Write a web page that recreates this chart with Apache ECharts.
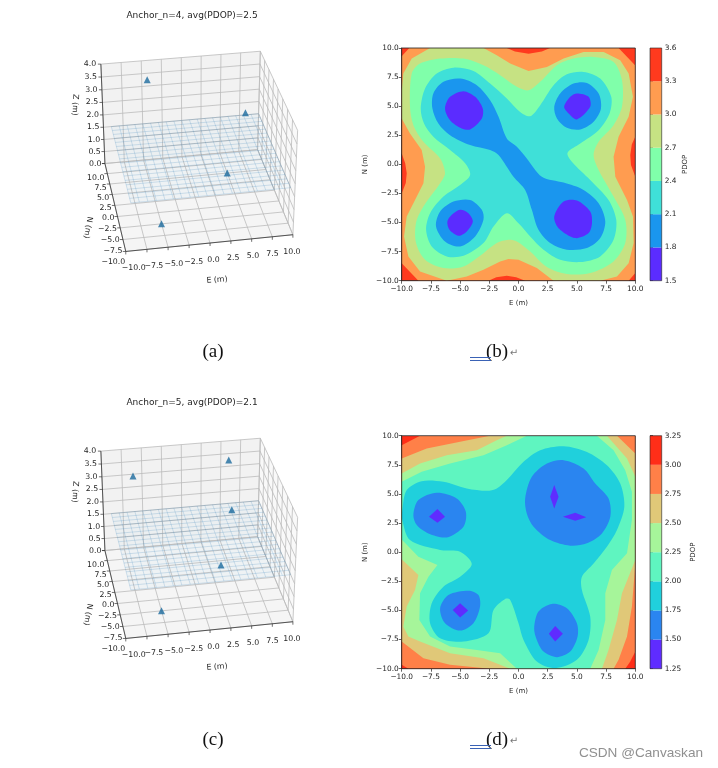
<!DOCTYPE html>
<html><head><meta charset="utf-8">
<style>html,body{margin:0;padding:0;background:#fff}#c{width:718px;height:768px}</style>
<script src="https://cdn.jsdelivr.net/npm/echarts@6/dist/echarts.min.js"></script>
</head><body><div id="c"></div>
<script>
// ---------- data ----------
const titleA = 'Anchor_n=4, avg(PDOP)=2.5';
const titleC = 'Anchor_n=5, avg(PDOP)=2.1';
const anchorsA = [[-5,-5,0],[5,5,0],[-5,5,4],[5,-5,4]];
const anchorsC = [[-7,3,4],[4,4,0],[5,5,4],[-5,-5,0],[3,-7,4]];
const horizTicks = [-10,-7.5,-5,-2.5,0,2.5,5,7.5,10];
const zTicks = [0,0.5,1,1.5,2,2.5,3,3.5,4];
const wireE = [-9,-8,-7,-6,-5,-4,-3,-2,-1,0,1,2,3,4,5,6,7,8,9,10];
const wireN = [-8,-7,-6,-5,-4,-3,-2,-1,0,1,2,3,4,5,6,7,8,9,10];
const wireHeight = 1.5;

const levelsB = [1.5,1.8,2.1,2.4,2.7,3.0,3.3,3.6];
const colorsB = ['#5b2cff','#1a96ee','#3fe0d8','#80ffaa','#c6e283','#ff9c50','#ff3a1e'];
const levelsD = [1.25,1.5,1.75,2.0,2.25,2.5,2.75,3.0,3.25];
const colorsD = ['#5f2cff','#2a85f0','#20d0dc','#5ff5c0','#a6f59a','#e0c878','#ff8048','#ff2e18'];

const b33 = [[-9.35,10],[-1,10],[-0.3,9.7],[0.86,9.5],[2,9.7],[2.7,10],[8.57,10],[10,8.5],[10,2.4],[9.7,1.7],[9.57,0.8],[9.63,-0.06],[10,-1.06],[10,-9.34],[9.43,-10],[0.57,-10],[-0.2,-9.7],[-1,-9.57],[-1.9,-9.7],[-2.57,-10],[-8.57,-10],[-10,-8.5],[-10,-2.5],[-9.65,-1.6],[-9.57,-0.77],[-9.7,0.1],[-10,0.94],[-10,9.3]];
const b30 = [[-10,3.94],[-10,6.37],[-9.86,7.8],[-9.14,9.09],[-7.57,10],[-3,10],[-1.86,9.37],[-0.71,8.66],[0.86,8.03],[2.43,8.37],[3.86,9.09],[5.57,9.66],[7.29,9.66],[8.71,8.94],[9.43,7.8],[9.8,5.8],[9.43,4.09],[8.57,2.37],[8.14,0.66],[8.29,-1.06],[9.29,-3.06],[9.8,-4.49],[9.86,-6.77],[9.43,-8.49],[8.43,-9.63],[7,-10],[3,-10],[1.57,-8.91],[0,-8.2],[-0.86,-8.14],[-1.57,-8.34],[-3,-9.06],[-4.43,-9.63],[-6.14,-10],[-8.43,-9.2],[-9.43,-7.91],[-9.8,-6.2],[-9.57,-4.49],[-8.86,-3.06],[-8.14,-1.63],[-8,-0.2],[-8.29,1.23],[-9.29,2.66]];
const b27 = [[-9.29,4.94],[-9.14,7.8],[-8.43,8.66],[-6.71,9.09],[-4.71,9.09],[-3,8.51],[-1.57,7.66],[-0.14,6.66],[0.86,6.37],[2,7.23],[3.29,8.51],[4.71,9.09],[6.43,9.23],[8.14,8.8],[8.86,7.23],[8.86,4.94],[8.14,3.37],[6.86,1.94],[6.43,0.8],[6.86,-0.49],[8.14,-2.77],[9.14,-4.77],[9.14,-6.77],[8.14,-8.34],[6.14,-9.34],[4.14,-9.43],[2.43,-8.83],[1,-7.49],[-0.14,-6.63],[-0.86,-6.49],[-1.86,-6.77],[-3,-7.63],[-4.71,-8.77],[-6.43,-8.91],[-8,-8.2],[-8.77,-6.77],[-8.77,-5],[-8.14,-3.63],[-6.71,-1.63],[-6.29,-0.77],[-6.71,0.51],[-8.14,1.94],[-9,3.37]];
const b24 = [[-8.37,4.8],[-8,6.51],[-7,7.8],[-5.57,8.31],[-3.86,8.03],[-2.43,6.94],[-1,5.66],[0.14,4.51],[1,4.14],[1.86,5.09],[3,6.8],[4.14,7.74],[5.57,7.94],[7,7.37],[7.94,5.8],[7.8,4.37],[6.86,2.94],[5.29,1.8],[4.2,1],[4.57,0.23],[6.14,-1.34],[7.71,-3.06],[8.37,-4.77],[8.14,-6.49],[7,-7.91],[5.29,-8.4],[3.57,-8.2],[2.14,-7.34],[1,-6.2],[0,-5.06],[-1,-4.2],[-2.14,-5.34],[-3,-6.77],[-4.71,-7.86],[-6.14,-7.91],[-7.43,-7.06],[-7.91,-5.63],[-7.57,-4.2],[-6.43,-2.77],[-5,-1.77],[-4.14,-0.91],[-4.57,0.09],[-5.86,1.23],[-7.29,2.37],[-8.09,3.51]];
const b21Main = [[-7.37,4.8],[-7.29,6.09],[-6.43,7.09],[-5,7.37],[-3.57,6.8],[-2.43,5.51],[-1.71,4.09],[-1,2.23],[-0.14,1.51],[0.71,0.51],[2,-1.06],[3.86,-1.57],[5.57,-2.2],[6.86,-3.34],[7.43,-4.91],[7,-6.34],[5.86,-7.2],[4.14,-7.34],[2.71,-6.77],[1.71,-5.63],[1.14,-3.91],[0.57,-2.2],[-0.43,-1.06],[-1.71,0.8],[-2.43,1.23],[-4.14,1.66],[-5.86,2.51],[-6.86,3.51]];
const b21TR = [[3.06,4.94],[3.57,6.09],[4.71,6.94],[5.86,7],[6.86,6.09],[7.06,4.8],[6.43,3.66],[5.29,3],[4.14,3.14],[3.29,3.94]];
const b21BL = [[-7.06,-5.34],[-6.71,-4.06],[-5.57,-3.2],[-4.14,-3.06],[-3.14,-3.91],[-3,-4.77],[-3.71,-6.2],[-5,-7.06],[-6.29,-6.63]];
const b18TL = [[-6.29,4.8],[-5.86,5.8],[-4.71,6.29],[-3.71,5.8],[-3.06,4.8],[-3.14,3.94],[-4.14,3],[-4.86,3.09],[-5.86,3.8]];
const b18TR = [[3.91,4.94],[4.43,5.8],[5,6.09],[6,5.8],[6.14,4.94],[5,3.86],[4.29,4.37]];
const b18BR = [[3.06,-4.49],[3.86,-3.2],[5,-3.11],[6.14,-4.06],[6.29,-5.06],[6,-5.91],[4.86,-6.34],[3.43,-5.49]];
const b18BL = [[-6.09,-4.91],[-5.71,-4.34],[-5,-3.91],[-4.29,-4.2],[-3.91,-4.91],[-4.43,-5.77],[-5.14,-6.14],[-5.91,-5.63]];

const d300 = [[-8.43,10],[10,10],[10,-8.53],[9.57,-9.39],[9.14,-10],[-9.43,-10],[-10,-9.67],[-10,9.19]];
const d275 = [[-10,8.04],[-7.86,8.9],[-5,9.47],[-2.43,10],[8.43,10],[10,8.47],[10,-0.96],[9.71,-4.67],[9.29,-7.24],[8.57,-9.24],[8.14,-10],[-2.43,-10],[-5.86,-9.67],[-8.14,-9.1],[-10,-7.67]];
const d250 = [[-10,6.76],[-8.43,7.61],[-6.14,8.33],[-3.57,8.76],[-1.86,9.61],[-1,10],[7.57,10],[9.29,8.04],[10,6.47],[10,-0.67],[8.86,-3.53],[8.43,-5.81],[7.71,-8.39],[7.14,-10],[-0.71,-10],[-3,-9.1],[-5.86,-8.67],[-8.43,-7.67],[-9.43,-7.24],[-9.86,-6.39],[-9.57,-4.67],[-8.86,-3.24],[-8.57,-1.96],[-10,-0.61]];
const d225 = [[-10,6.04],[-8.29,6.9],[-5.86,7.61],[-3,8.33],[-1,9.19],[0.71,10],[6.71,10],[8.14,8.76],[9.14,7.04],[9.71,5.19],[9.71,2.76],[9.29,-0.1],[8,-1.53],[7.43,-3.53],[7.43,-5.81],[6.86,-8.39],[6.14,-10],[-0.14,-10],[-1.57,-8.67],[-3.57,-8.39],[-5.86,-8.1],[-7.57,-7.24],[-8.49,-5.81],[-8.43,-3.53],[-7.71,-2.1],[-6.94,-1.1],[-8.57,-0.39],[-10,1.1]];
const d200 = [[-9.95,3.6],[-9.57,5.33],[-8.29,6.1],[-6.43,6.04],[-4.43,5.47],[-2.71,5.27],[-1.86,5.47],[-1,6.19],[0.43,7.76],[1.86,8.76],[3.86,9.1],[5.86,8.61],[7.57,7.47],[8.71,5.9],[9.06,3.9],[8.43,1.9],[7.57,0.47],[6.43,-0.96],[5.43,-2.1],[5.43,-3.24],[6.14,-5.53],[6,-7.53],[5,-9.24],[3.14,-9.96],[1.57,-9.39],[0.43,-7.53],[0,-6.1],[-0.71,-4.1],[-1.14,-4.01],[-2.14,-4.96],[-2.57,-6.96],[-4.71,-7.67],[-6.71,-7.39],[-7.57,-6.1],[-7.43,-4.39],[-6.43,-2.96],[-5,-2.1],[-4,-1.01],[-5,0.04],[-6.71,0.19],[-9.29,1.04],[-9.95,2.76]];
const d175L = [[-9,3.19],[-8.57,4.47],[-7,5.1],[-5.29,4.61],[-4.51,3.47],[-4.71,2.19],[-6.14,1.27],[-7.71,1.61],[-8.71,2.33]];
const d175TR = [[0.57,4.61],[1.14,6.47],[2.43,7.61],[3.86,7.9],[5.57,7.19],[6.57,5.9],[7.71,4.61],[7.86,3.04],[7.14,1.61],[5.86,0.76],[4.43,0.56],[2.71,1.04],[1.29,2.19],[0.71,3.33]];
const d175BL = [[-6.71,-4.81],[-6,-3.67],[-4.29,-3.3],[-3.43,-3.67],[-3.29,-4.67],[-3.86,-6.1],[-5,-6.73],[-6.29,-6.1]];
const d175B = [[1.34,-6.53],[1.71,-5.1],[2.86,-4.44],[4.14,-4.81],[5,-6.1],[5.06,-7.24],[4.43,-8.53],[3.29,-9.01],[2.14,-8.53],[1.57,-7.53]];
const d150a = [[-7.66,3.04],[-6.94,3.7],[-6.29,3.04],[-6.94,2.53]];
const d150b = [[3.06,5.76],[3.43,4.76],[3.06,3.76],[2.71,4.76]];
const d150c = [[3.8,3.04],[4.86,3.39],[5.8,2.99],[4.86,2.7]];
const d150d = [[-5.63,-4.96],[-5,-4.39],[-4.31,-5.01],[-5,-5.61]];
const d150e = [[2.6,-7.01],[3.14,-6.33],[3.8,-7.01],[3.14,-7.67]];

const frame = [[-10,10],[10,10],[10,-10],[-10,-10]];

// bands painted from the outermost level inwards: [colour index, ring]
const bandsB = [[6,frame],[5,b33],[4,b30],[3,b27],[2,b24],[1,b21Main],[1,b21TR],[1,b21BL],[0,b18TL],[0,b18TR],[0,b18BR],[0,b18BL]];
const bandsD = [[7,frame],[6,d300],[5,d275],[4,d250],[3,d225],[2,d200],[1,d175L],[1,d175TR],[1,d175BL],[1,d175B],[0,d150a],[0,d150b],[0,d150c],[0,d150d],[0,d150e]];

// ---------- 3-D projection (matplotlib style camera) ----------
const ELEV = 32 * Math.PI/180, AZIM = -100 * Math.PI/180, DIST = 10;
const HX = 0.5714, HZ = 0.4286;
const sE=Math.sin(ELEV), cE=Math.cos(ELEV), sA=Math.sin(AZIM), cA=Math.cos(AZIM);
function proj(e,n,z){
  const x=e/10*HX, y=n/10*HX, w=(z-2)/2*HZ;
  const X=-sA*x+cA*y;
  const Y=-sE*cA*x-sE*sA*y+cE*w;
  const Z=cE*cA*x+cE*sA*y+sE*w;
  const d=DIST-Z;
  return [X/d,Y/d];
}
const FONT3D='DejaVu Sans';
const S3X=1450,S3Y=1400;
const panels3d=[{cx:195.3,cy:148,title:titleA,titleY:16,anchors:anchorsA},{cx:195.3,cy:535,title:titleC,titleY:403,anchors:anchorsC}];

const grid=[],xAxis=[],yAxis=[],series=[],graphicEls=[];
const minus=s=>String(s).replace('-','\u2212');

function seg(a,b){const p=proj(...a),q=proj(...b);return [p[0],p[1],q[0],q[1]];}
function segSeries(gi,data,color,width,z){
  series.push({type:'custom',xAxisIndex:gi,yAxisIndex:gi,z,silent:true,clip:false,coordinateSystem:'cartesian2d',
    data,encode:{x:[0,2],y:[1,3]},
    renderItem(p,api){
      const a=api.coord([api.value(0),api.value(1)]),b=api.coord([api.value(2),api.value(3)]);
      return {type:'line',shape:{x1:a[0],y1:a[1],x2:b[0],y2:b[1]},style:{stroke:color,lineWidth:width,fill:null}};
    }});
}
function textSeries(gi,items,z){
  series.push({type:'custom',xAxisIndex:gi,yAxisIndex:gi,z,silent:true,clip:false,coordinateSystem:'cartesian2d',
    data:items.map(t=>[t.p[0],t.p[1]]),
    renderItem(p,api){
      const t=items[p.dataIndex],a=api.coord([api.value(0),api.value(1)]);
      return {type:'text',x:a[0]+t.dx,y:a[1]+t.dy,rotation:t.rot||0,style:{text:t.s,fontFamily:FONT3D,fontSize:t.fs||7.8,fill:'#262626',align:t.al||'center',verticalAlign:'middle'}};
    }});
}

panels3d.forEach(P=>{
  const gi=grid.length,L=60,T=P.cy-108,W=250,H=225;
  grid.push({left:L,top:T,width:W,height:H,show:false});
  xAxis.push({type:'value',gridIndex:gi,show:false,min:(L-P.cx)/S3X,max:(L+W-P.cx)/S3X});
  yAxis.push({type:'value',gridIndex:gi,show:false,max:(P.cy-T)/S3Y,min:(P.cy-T-H)/S3Y});
  const e0=wireE[0],e1=wireE[wireE.length-1],n0=wireN[0],n1=wireN[wireN.length-1];
  // panes and the faint tint of the wire plane
  const panes=[
    {c:[[-10,-10,0],[10,-10,0],[10,10,0],[-10,10,0]],f:'#f5f5f5'},
    {c:[[-10,10,0],[10,10,0],[10,10,4],[-10,10,4]],f:'#f2f2f2'},
    {c:[[10,-10,0],[10,10,0],[10,10,4],[10,-10,4]],f:'#f9f9f9'},
    {c:[[e0,n0,wireHeight],[e1,n0,wireHeight],[e1,n1,wireHeight],[e0,n1,wireHeight]],f:'rgba(120,190,240,0.05)'}];
  series.push({type:'custom',xAxisIndex:gi,yAxisIndex:gi,z:1,silent:true,clip:false,coordinateSystem:'cartesian2d',
    data:panes.map(q=>proj(...q.c[0])),
    renderItem(p,api){
      const q=panes[p.dataIndex];
      return {type:'polygon',shape:{points:q.c.map(v=>api.coord(proj(...v)))},style:{fill:q.f,stroke:null}};
    }});
  // grid lines
  const gl=[];
  horizTicks.forEach(t=>{
    gl.push(seg([t,-10,0],[t,10,0]),seg([-10,t,0],[10,t,0]),seg([t,10,0],[t,10,4]),seg([10,t,0],[10,t,4]));
  });
  zTicks.forEach(t=>{gl.push(seg([-10,10,t],[10,10,t]),seg([10,10,t],[10,-10,t]));});
  segSeries(gi,gl,'#bbbbbb',0.8,2);
  // wire plane
  const wl=[];
  wireE.forEach(t=>wl.push(seg([t,n0,wireHeight],[t,n1,wireHeight])));
  wireN.forEach(t=>wl.push(seg([e0,t,wireHeight],[e1,t,wireHeight])));
  segSeries(gi,wl,'rgba(31,119,180,0.26)',0.7,3);
  // axes and tick marks
  const ax=[seg([-10,-10,0],[10,-10,0]),seg([-10,-10,0],[-10,10,0]),seg([-10,10,0],[-10,10,4])];
  segSeries(gi,ax,'#333333',0.8,4);
  const tk=[];
  horizTicks.forEach(t=>{
    const p=proj(t,-10,0);tk.push([p[0],p[1],p[0],p[1]-3/S3Y]);
    const q=proj(-10,t,0);tk.push([q[0],q[1],q[0]-3/S3X,q[1]]);
  });
  zTicks.forEach(t=>{const p=proj(-10,10,t);tk.push([p[0],p[1],p[0]-3/S3X,p[1]]);});
  segSeries(gi,tk,'#333333',0.7,4);
  // tick labels
  const tx=[];
  horizTicks.forEach(t=>{
    const s=minus(t.toFixed(1));
    tx.push({p:proj(t,-10,0),s,dx:3.5-0.45*t,dy:17});
    tx.push({p:proj(-10,t,0),s,dx:-0.5,dy:11+(t+10)/20*3.5,al:'right'});
  });
  zTicks.forEach(t=>{tx.push({p:proj(-10,10,t),s:t.toFixed(1),dx:-3.5-0.3*t,dy:0,al:'right'});});
  // axis labels
  tx.push({p:proj(0,-10,0),s:'E (m)',dx:7,dy:37,rot:0.08});
  tx.push({p:proj(-10,0,0),s:'N (m)',dx:-27,dy:22,rot:-1.75});
  tx.push({p:proj(-10,10,2),s:'Z (m)',dx:-28,dy:-10,rot:-1.62});
  textSeries(gi,tx,5);
  // anchors
  series.push({type:'scatter',xAxisIndex:gi,yAxisIndex:gi,z:6,silent:true,clip:false,symbol:'triangle',symbolSize:7,
    itemStyle:{color:'#1b6a9e'},data:P.anchors.map(a=>proj(...a))});
  graphicEls.push({type:'text',x:192,y:P.titleY,style:{text:P.title,font:'9px "DejaVu Sans"',fill:'#262626',textAlign:'center',textVerticalAlign:'middle'}});
});

// ---------- contour panels ----------
function addContour(top,h,bands,colors,levels,decimals,nameOffset){
  const gi=grid.length;
  grid.push({left:401.7,top,width:233.6,height:h,show:true,borderColor:'#222',borderWidth:0.8,backgroundColor:'transparent',z:5});
  const axisCommon={type:'value',min:-10,max:10,interval:2.5,gridIndex:gi,splitLine:{show:false},
    axisLine:{onZero:false,lineStyle:{color:'#222',width:0.8}},axisTick:{length:3,lineStyle:{color:'#222',width:0.7}},
    nameLocation:'middle',nameTextStyle:{fontFamily:'DejaVu Sans',fontSize:7,color:'#262626'}};
  const lab=m=>({fontFamily:'DejaVu Sans',fontSize:7.4,color:'#262626',margin:m,formatter:v=>minus(v.toFixed(1))});
  xAxis.push({...axisCommon,axisLabel:lab(5),name:'E (m)',nameGap:19});
  yAxis.push({...axisCommon,axisLabel:lab(3),name:'N (m)',nameGap:33,nameRotate:90});
  series.push({type:'custom',xAxisIndex:gi,yAxisIndex:gi,z:3,silent:true,clip:true,coordinateSystem:'cartesian2d',
    data:bands.map((b,i)=>[b[1][0][0],b[1][0][1]]),
    renderItem(p,api){
      const b=bands[p.dataIndex],ring=b[1];
      const onFrame=ring.some(v=>Math.abs(v[0])>=10||Math.abs(v[1])>=10);
      const pts=ring.map(v=>api.coord(v));
      return {type:'polygon',shape:{points:pts,smooth:(onFrame||ring.length<=4)?0:0.3},style:{fill:colors[b[0]],stroke:null}};
    }});
  // colour bar
  const ci=grid.length;
  grid.push({left:650,top,width:11.7,height:h,show:true,borderColor:'#222',borderWidth:0.6,backgroundColor:'transparent',z:5});
  xAxis.push({type:'value',gridIndex:ci,show:false,min:0,max:1});
  yAxis.push({type:'value',gridIndex:ci,position:'right',min:levels[0],max:levels[levels.length-1],interval:levels[1]-levels[0],
    splitLine:{show:false},axisLine:{show:false},axisTick:{length:3,lineStyle:{color:'#222',width:0.7}},
    axisLabel:{fontFamily:'DejaVu Sans',fontSize:7.4,color:'#262626',margin:3,formatter:v=>v.toFixed(decimals)},
    name:'PDOP',nameLocation:'middle',nameGap:nameOffset,nameRotate:90,nameTextStyle:{fontFamily:'DejaVu Sans',fontSize:7,color:'#262626'}});
  series.push({type:'custom',xAxisIndex:ci,yAxisIndex:ci,z:3,silent:true,coordinateSystem:'cartesian2d',
    data:colors.map((c,i)=>[0,levels[i],1,levels[i+1]]),encode:{x:[0,2],y:[1,3]},
    renderItem(p,api){
      const a=api.coord([0,api.value(3)]),b=api.coord([1,api.value(1)]);
      return {type:'rect',shape:{x:a[0],y:a[1],width:b[0]-a[0],height:b[1]-a[1]},style:{fill:colors[p.dataIndex]}};
    }});
}
addContour(48,232.7,bandsB,colorsB,levelsB,1,20);
addContour(435.7,233,bandsD,colorsD,levelsD,2,28);

// ---------- captions ----------
[['(a)',213,352],['(b)',497,352],['(c)',213,740],['(d)',497,740]].forEach(c=>{
  graphicEls.push({type:'text',x:c[1],y:c[2],style:{text:c[0],font:'19px "Liberation Serif"',fill:'#111',textAlign:'center',textVerticalAlign:'middle'}});
});
[351,739].forEach(y=>{
  graphicEls.push({type:'line',shape:{x1:470,y1:y+6.5,x2:491,y2:y+6.5},style:{stroke:'#3a62b5',lineWidth:1}});
  graphicEls.push({type:'line',shape:{x1:470,y1:y+9.5,x2:491,y2:y+9.5},style:{stroke:'#3a62b5',lineWidth:1}});
  graphicEls.push({type:'text',x:514,y:y+2,style:{text:'\u21b5',font:'10px "DejaVu Sans"',fill:'#777',textAlign:'center',textVerticalAlign:'middle'}});
});
graphicEls.push({type:'text',x:703,y:753,style:{text:'CSDN @Canvaskan',font:'13.6px "Liberation Sans"',fill:'#909090',textAlign:'right',textVerticalAlign:'middle'}});

const chart=echarts.init(document.getElementById('c'),null,{renderer:'canvas'});
chart.setOption({animation:false,backgroundColor:'#fff',grid,xAxis,yAxis,series,graphic:{elements:graphicEls}});
</script></body></html>
